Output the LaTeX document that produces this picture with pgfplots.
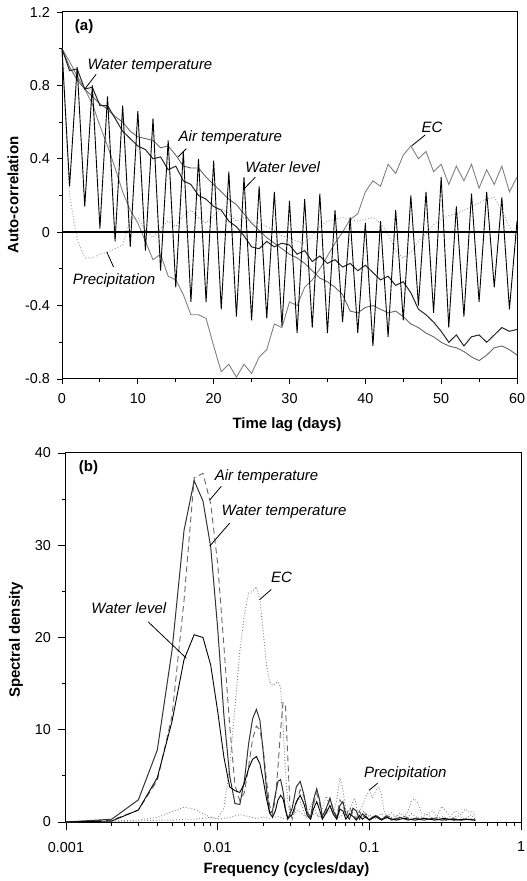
\documentclass[border=0pt]{standalone}
\usepackage{fontspec}
\setmainfont{Liberation Sans}
\usepackage{pgfplots}
\pgfplotsset{compat=1.18}
\pgfplotstableread{
lag WL WT AT EC PR
0 1.00 1.00 1.00 1.00 1.00
1 0.25 0.88 0.90 0.93 0.20
2 0.90 0.89 0.83 0.85 -0.04
3 0.14 0.78 0.78 0.78 -0.14
4 0.80 0.79 0.74 0.70 -0.14
5 0.02 0.69 0.70 0.58 -0.12
6 0.74 0.69 0.67 0.47 -0.11
7 -0.05 0.62 0.63 0.35 -0.09
8 0.69 0.55 0.60 0.22 -0.07
9 -0.08 0.51 0.55 0.12 0.07
10 0.66 0.47 0.52 0.05 0.08
11 -0.10 0.45 0.51 -0.05 0.01
12 0.62 0.40 0.50 -0.15 -0.03
13 -0.21 0.41 0.46 -0.12 0.02
14 0.50 0.34 0.47 -0.24 0.06
15 -0.30 0.36 0.42 -0.26 0.03
16 0.44 0.28 0.36 -0.34 0.09
17 -0.38 0.26 0.35 -0.45 0.12
18 0.40 0.20 0.35 -0.45 0.08
19 -0.38 0.18 0.30 -0.47 0.05
20 0.39 0.14 0.26 -0.62 0.09
21 -0.42 0.12 0.22 -0.76 0.13
22 0.33 0.06 0.18 -0.72 0.10
23 -0.46 0.03 0.15 -0.79 0.06
24 0.30 -0.02 0.10 -0.72 0.08
25 -0.48 -0.08 0.05 -0.77 0.05
26 0.25 -0.09 0.01 -0.68 0.05
27 -0.47 -0.05 -0.03 -0.64 0.03
28 0.22 -0.08 -0.06 -0.50 0.01
29 -0.51 -0.06 -0.09 -0.52 -0.02
30 0.17 -0.07 -0.12 -0.38 -0.03
31 -0.55 -0.12 -0.14 -0.40 -0.05
32 0.18 -0.10 -0.17 -0.30 -0.06
33 -0.52 -0.16 -0.21 -0.26 -0.02
34 0.21 -0.13 -0.25 -0.20 0.03
35 -0.55 -0.17 -0.27 -0.13 0.06
36 0.12 -0.15 -0.30 -0.06 0.07
37 -0.49 -0.19 -0.34 0.00 0.08
38 0.08 -0.17 -0.43 0.07 0.07
39 -0.55 -0.21 -0.44 0.10 0.06
40 0.05 -0.18 -0.41 0.22 0.07
41 -0.62 -0.22 -0.40 0.28 0.08
42 0.06 -0.26 -0.42 0.25 0.05
43 -0.57 -0.24 -0.44 0.37 -0.01
44 0.12 -0.29 -0.43 0.32 -0.10
45 -0.48 -0.27 -0.46 0.42 -0.14
46 0.20 -0.33 -0.50 0.47 -0.11
47 -0.40 -0.42 -0.52 0.40 -0.05
48 0.22 -0.45 -0.55 0.44 -0.01
49 -0.44 -0.49 -0.57 0.33 0.04
50 0.30 -0.54 -0.60 0.37 0.07
51 -0.52 -0.60 -0.62 0.26 0.09
52 0.14 -0.56 -0.63 0.36 0.10
53 -0.46 -0.62 -0.65 0.28 0.12
54 0.21 -0.57 -0.68 0.37 0.14
55 -0.38 -0.56 -0.70 0.24 0.16
56 0.22 -0.60 -0.67 0.34 0.18
57 -0.30 -0.56 -0.63 0.26 0.19
58 0.19 -0.52 -0.62 0.36 0.12
59 -0.42 -0.54 -0.64 0.22 0.03
60 0.06 -0.53 -0.67 0.30 -0.04
}\acf
\pgfplotstableread{
f S
0.001 0
0.002 0.3
0.003 2.4
0.004 7.8
0.005 18.6
0.006 31.6
0.007 37.0
0.008 34.8
0.009 29.8
0.010 21.0
0.011 11.5
0.012 5.0
0.013 2.0
0.014 1.9
0.015 4.5
0.016 8.5
0.017 11.2
0.018 12.2
0.019 11.0
0.020 7.5
0.021 3.5
0.022 1.0
0.023 1.2
0.024 3.0
0.025 4.4
0.026 4.6
0.027 3.3
0.028 1.4
0.029 0.3
0.031 1.5
0.033 3.8
0.035 4.4
0.037 3.0
0.039 1.0
0.041 0.5
0.043 2.5
0.045 3.6
0.047 2.4
0.049 0.6
0.052 1.5
0.055 2.6
0.058 1.2
0.061 0.4
0.064 1.8
0.067 2.2
0.070 0.8
0.074 0.3
0.078 1.5
0.082 1.2
0.086 0.3
0.09 0.9
0.095 0.5
0.10 0.2
0.11 0.7
0.12 0.3
0.13 0.6
0.14 0.2
0.16 0.5
0.18 0.2
0.20 0.4
0.23 0.2
0.26 0.4
0.30 0.2
0.35 0.3
0.40 0.2
0.45 0.3
0.50 0.2
}\sWT
\pgfplotstableread{
f S
0.001 0
0.002 0.2
0.003 1.3
0.004 4.5
0.005 11.5
0.006 24.0
0.007 37.3
0.008 37.8
0.009 34.5
0.010 28.0
0.011 19.0
0.012 10.5
0.013 4.0
0.014 2.3
0.015 3.2
0.016 6.0
0.017 9.0
0.018 10.4
0.019 10.0
0.020 7.8
0.021 4.5
0.022 1.8
0.023 0.8
0.024 2.5
0.025 6.0
0.026 10.0
0.027 13.0
0.028 12.5
0.029 7.0
0.030 1.5
0.031 0.3
0.033 2.0
0.035 3.5
0.037 2.8
0.039 1.2
0.041 0.4
0.043 2.0
0.045 3.1
0.047 2.0
0.049 0.5
0.052 1.2
0.055 2.5
0.058 1.3
0.061 0.6
0.064 2.4
0.067 1.9
0.070 0.6
0.074 1.6
0.078 0.9
0.082 0.3
0.086 1.2
0.09 0.5
0.095 0.9
0.10 0.3
0.11 0.8
0.12 0.3
0.13 0.7
0.15 0.3
0.17 0.6
0.19 0.3
0.22 0.5
0.25 0.2
0.28 0.5
0.32 0.2
0.36 0.4
0.40 0.2
0.45 0.4
0.50 0.2
}\sAT
\pgfplotstableread{
f S
0.001 0
0.002 0.1
0.003 1.3
0.004 4.8
0.005 10.9
0.006 17.6
0.007 20.3
0.008 20.0
0.009 17.0
0.010 12.0
0.011 7.0
0.012 3.8
0.013 3.4
0.014 3.2
0.015 4.2
0.016 5.8
0.017 6.8
0.018 7.1
0.019 6.3
0.020 4.5
0.021 2.5
0.022 1.0
0.023 0.5
0.024 1.2
0.025 2.4
0.026 2.9
0.027 2.5
0.028 1.3
0.029 0.4
0.031 0.8
0.033 2.2
0.035 2.9
0.037 2.0
0.039 0.7
0.041 0.3
0.043 1.5
0.045 2.2
0.047 1.3
0.049 0.3
0.052 1.0
0.055 1.8
0.058 0.8
0.061 0.3
0.064 1.4
0.067 1.2
0.070 0.3
0.074 0.9
0.078 0.6
0.082 0.2
0.086 0.7
0.09 0.3
0.095 0.6
0.10 0.2
0.11 0.6
0.12 0.2
0.13 0.5
0.15 0.2
0.17 0.4
0.20 0.2
0.23 0.4
0.27 0.2
0.31 0.4
0.36 0.2
0.42 0.3
0.50 0.2
}\sWL
\pgfplotstableread{
f S
0.001 0
0.002 0.1
0.003 0.1
0.004 0.2
0.005 0.2
0.006 0.3
0.007 0.3
0.008 0.4
0.009 0.5
0.010 0.4
0.011 1.5
0.012 6.0
0.013 12.5
0.014 18.5
0.015 22.5
0.016 24.8
0.017 25.0
0.018 25.5
0.019 24.0
0.020 20.5
0.021 17.0
0.022 15.2
0.023 14.8
0.024 15.0
0.025 15.2
0.026 14.6
0.027 10.5
0.028 5.5
0.029 2.2
0.030 0.6
0.032 1.5
0.034 2.6
0.036 1.8
0.038 0.6
0.040 1.2
0.042 2.2
0.044 1.4
0.046 0.5
0.049 1.5
0.052 2.8
0.055 1.6
0.058 0.8
0.061 2.5
0.064 4.8
0.067 3.5
0.070 1.2
0.073 0.6
0.076 1.8
0.08 2.6
0.084 1.0
0.088 0.5
0.092 1.2
0.097 0.4
0.10 0.8
0.11 0.4
0.12 0.9
0.13 0.3
0.15 0.7
0.17 0.3
0.19 0.9
0.21 0.4
0.24 0.8
0.27 0.3
0.30 0.6
0.34 0.3
0.38 0.7
0.43 0.3
0.47 0.8
0.50 0.3
}\sEC
\pgfplotstableread{
f S
0.001 0
0.002 0.1
0.003 0.2
0.004 0.5
0.005 1.1
0.006 1.6
0.007 1.4
0.008 0.9
0.009 0.5
0.010 0.3
0.012 0.5
0.014 0.8
0.016 0.6
0.018 0.4
0.020 0.5
0.022 0.4
0.025 0.6
0.028 0.3
0.031 0.6
0.034 1.3
0.037 0.7
0.040 0.4
0.044 1.0
0.048 0.5
0.052 0.9
0.056 1.4
0.060 0.7
0.064 0.5
0.068 1.0
0.072 0.6
0.076 1.1
0.080 0.5
0.085 0.9
0.090 1.8
0.095 2.8
0.100 3.4
0.105 2.6
0.110 3.4
0.115 3.8
0.120 3.0
0.125 1.2
0.13 0.6
0.14 1.0
0.15 0.5
0.16 1.0
0.17 0.6
0.18 1.2
0.19 2.3
0.20 2.5
0.21 2.0
0.22 1.0
0.24 0.8
0.26 1.2
0.28 0.6
0.30 1.7
0.32 1.2
0.34 0.6
0.37 1.2
0.40 0.8
0.43 1.4
0.46 1.0
0.48 1.2
0.50 0.5
}\sPR
\begin{document}
\begin{tikzpicture}
\tikzset{
  ann/.style={font=\fontsize{7.5}{9}\selectfont\itshape},
  ptr/.style={black, line width=0.4pt},
  ttl/.style={font=\fontsize{7.5}{9}\selectfont\bfseries},
}
\pgfplotsset{
  common/.style={
    scale only axis, width=227.5pt,
    anchor=south west,
    tick pos=left, tick align=outside,
    axis line style={line width=0.5pt},
    every tick/.style={black, line width=0.45pt},
    tick label style={font=\fontsize{7.2}{8.6}\selectfont},
    /pgf/number format/assume math mode=true,
    clip=false,
  },
}
% ---------- panel (a)
\begin{axis}[common, at={(31pt,251pt)}, height=183.5pt,
  major tick length=2.5pt, minor tick length=1.5pt,
  xmin=0, xmax=60, ymin=-0.8, ymax=1.2,
  xtick={0,10,20,30,40,50,60}, xticklabels={0,10,20,30,40,50,60},
  ytick={-0.8,-0.4,0,0.4,0.8,1.2}, yticklabels={-0.8,-0.4,0,0.4,0.8,1.2},
  minor x tick num=1, minor y tick num=1,
  xticklabel style={yshift=-1pt}]
\addplot[black!40, line width=0.45pt, densely dotted] table[x=lag,y=PR] {\acf};
\addplot[black!50, line width=0.45pt] table[x=lag,y=EC] {\acf};
\addplot[black!60, line width=0.45pt] table[x=lag,y=AT] {\acf};
\addplot[black!85, line width=0.5pt] table[x=lag,y=WT] {\acf};
\addplot[black, line width=0.45pt] table[x=lag,y=WL] {\acf};
\addplot[black, line width=0.7pt] coordinates {(0,0) (60,0)};
\node[ann] at (axis cs:11.6,0.905) {Water temperature};
\draw[ptr] (axis cs:4.5,0.86) -- (axis cs:3.0,0.78);
\node[ann] at (axis cs:22.2,0.518) {Air temperature};
\draw[ptr] (axis cs:16.4,0.455) -- (axis cs:15.3,0.41);
\node[ann] at (axis cs:29.1,0.354) {Water level};
\draw[ptr] (axis cs:25.5,0.30) -- (axis cs:24.1,0.24);
\node[ann] at (axis cs:48.8,0.572) {EC};
\draw[ptr] (axis cs:47.9,0.53) -- (axis cs:46.1,0.47);
\node[ann] at (axis cs:6.86,-0.262) {Precipitation};
\draw[ptr] (axis cs:6.8,-0.19) -- (axis cs:5.9,-0.107);
\node[ttl, anchor=west] at (axis description cs:0.013,0.96) {(a)};
\end{axis}
% ---------- panel (b)
\begin{axis}[common, at={(33pt,29.5pt)}, height=184.5pt,
  major tick length=4pt, minor tick length=2pt,
  xmode=log, xmin=0.001, xmax=1, ymin=0, ymax=40,
  xtick={0.001,0.01,0.1,1}, xticklabels={0.001,0.01,0.1,1},
  ytick={0,10,20,30,40}, yticklabels={0,10,20,30,40},
  minor y tick num=1,
  xticklabel style={yshift=-2.5pt}]
\addplot[black!45, line width=0.45pt, densely dotted] table[x=f,y=S] {\sPR};
\addplot[black!50, line width=0.45pt, densely dotted] table[x=f,y=S] {\sEC};
\addplot[black!60, line width=0.45pt, densely dashed] table[x=f,y=S] {\sAT};
\addplot[black!80, line width=0.5pt] table[x=f,y=S] {\sWT};
\addplot[black, line width=0.45pt] table[x=f,y=S] {\sWL};
\node[ann] at (axis cs:0.0210,37.4) {Air temperature};
\draw[ptr] (axis cs:0.01058,36.4) -- (axis cs:0.00886,34.9);
\node[ann] at (axis cs:0.0274,33.6) {Water temperature};
\draw[ptr] (axis cs:0.0120,32.4) -- (axis cs:0.00886,29.9);
\node[ann] at (axis cs:0.0264,26.5) {EC};
\draw[ptr] (axis cs:0.02256,25.2) -- (axis cs:0.01889,24.1);
\node[ann] at (axis cs:0.002597,23.2) {Water level};
\draw[ptr] (axis cs:0.00348,21.7) -- (axis cs:0.00622,17.75);
\node[ann] at (axis cs:0.1726,5.2) {Precipitation};
\draw[ptr] (axis cs:0.1134,4.2) -- (axis cs:0.1,3.47);
\node[ttl, anchor=west] at (axis description cs:0.013,0.96) {(b)};
\end{axis}
% ---------- axis titles
\node[ttl, rotate=90] at (6.5pt,343pt) {Auto-correlation};
\node[ttl] at (143.5pt,228pt) {Time lag (days)};
\node[ttl, rotate=90] at (8pt,120.5pt) {Spectral density};
\node[ttl] at (143.25pt,5.5pt) {Frequency (cycles/day)};
\pgfresetboundingbox
\path[use as bounding box] (0,0) rectangle (263pt,440.5pt);
\end{tikzpicture}
\end{document}
